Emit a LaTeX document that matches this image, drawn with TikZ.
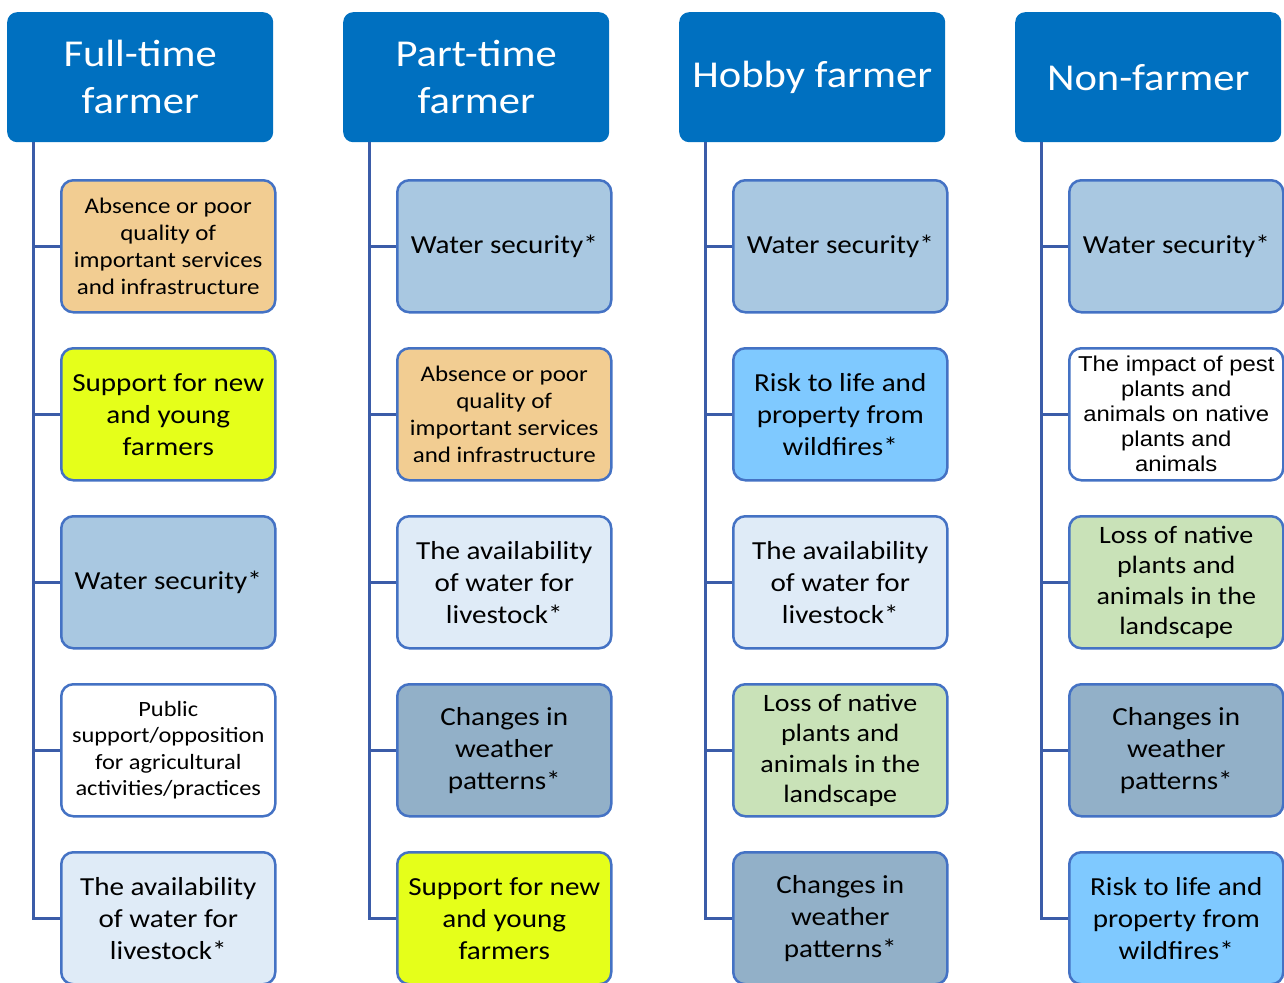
\documentclass[tikz,border=0pt]{standalone}
\usepackage{fontspec}
\setmainfont[FakeStretch=1.12]{Carlito}
\newfontfamily\arialfont[FakeStretch=1.11]{Liberation Sans}
\definecolor{hdr}{HTML}{0070C0}
\definecolor{bord}{HTML}{4472C4}
\definecolor{conncol}{HTML}{3B5CA8}
\definecolor{tan}{HTML}{F2CD92}
\definecolor{yel}{HTML}{E5FF1A}
\definecolor{water}{HTML}{A9C8E1}
\definecolor{avail}{HTML}{DFEBF7}
\definecolor{weather}{HTML}{92B0C8}
\definecolor{risk}{HTML}{7FC9FF}
\definecolor{loss}{HTML}{C9E2B8}
\tikzset{
  hdrbox/.style={fill=hdr, draw=none, rounded corners=10pt, minimum width=266pt, minimum height=130pt, anchor=north west, text=white, align=center, inner sep=0pt, font=\fontsize{38}{47}\selectfont},
  child/.style={draw=bord, line width=2.5pt, rounded corners=12pt, minimum width=214pt, minimum height=132pt, anchor=north west, align=center, inner sep=0pt, text=black},
  big/.style={font=\fontsize{26}{32}\selectfont},
  mid/.style={font=\fontsize{25}{30.5}\selectfont},
  small/.style={font=\fontsize{22.3}{27}\selectfont},
  pub/.style={font=\fontsize{21.8}{26.5}\selectfont},
  conn/.style={draw=conncol, line width=3pt},
}
\begin{document}
\begin{tikzpicture}[x=1pt,y=-1pt]
\useasboundingbox (0,0) rectangle (1284,982);
\clip (0,0) rectangle (1284,982);
% headers
\node[hdrbox] (h1) at (7,12) {Full-time\\farmer};
\node[hdrbox] (h2) at (343,12) {Part-time\\farmer};
\node[hdrbox] (h3) at (679,12) {Hobby farmer};
\node[hdrbox] (h4) at (1015,12) {Non-farmer};
% column 1
\node[child, fill=tan, small] (c11) at (60,179) {Absence or poor\\quality of\\important services\\and infrastructure};
\node[child, fill=yel, big] (c12) at (60,347) {Support for new\\and young\\farmers};
\node[child, fill=water, big] (c13) at (60,515) {Water security*};
\node[child, fill=white, pub] (c14) at (60,683) {Public\\support/opposition\\for agricultural\\activities/practices};
\node[child, fill=avail, big] (c15) at (60,851) {The availability\\of water for\\livestock*};
% column 2
\node[child, fill=water, big] (c21) at (396,179) {Water security*};
\node[child, fill=tan, small] (c22) at (396,347) {Absence or poor\\quality of\\important services\\and infrastructure};
\node[child, fill=avail, big] (c23) at (396,515) {The availability\\of water for\\livestock*};
\node[child, fill=weather, big] (c24) at (396,683) {Changes in\\weather\\patterns*};
\node[child, fill=yel, big] (c25) at (396,851) {Support for new\\and young\\farmers};
% column 3
\node[child, fill=water, big] (c31) at (732,179) {Water security*};
\node[child, fill=risk, big] (c32) at (732,347) {Risk to life and\\property from\\wildfires*};
\node[child, fill=avail, big] (c33) at (732,515) {The availability\\of water for\\livestock*};
\node[child, fill=loss, mid] (c34) at (732,683) {Loss of native\\plants and\\animals in the\\landscape};
\node[child, fill=weather, big] (c35) at (732,851) {Changes in\\weather\\patterns*};
% column 4
\node[child, fill=water, big] (c41) at (1068,179) {Water security*};
\node[child, fill=white, font=\arialfont\fontsize{21.5}{25}\selectfont] (c42) at (1068,347) {The impact of pest\\plants and\\animals on native\\plants and\\animals};
\node[child, fill=loss, mid] (c43) at (1068,515) {Loss of native\\plants and\\animals in the\\landscape};
\node[child, fill=weather, big] (c44) at (1068,683) {Changes in\\weather\\patterns*};
\node[child, fill=risk, big] (c45) at (1068,851) {Risk to life and\\property from\\wildfires*};
% trunks
\foreach \c/\x in {1/33,2/369,3/705,4/1041}{
  \coordinate (t\c) at (\x,142);
  \draw[conn] (t\c) |- (c\c5.west);
  \foreach \r in {1,2,3,4}{
    \draw[conn] (c\c\r.west) -- (c\c\r.west -| t\c);
  }
}
\end{tikzpicture}
\end{document}
